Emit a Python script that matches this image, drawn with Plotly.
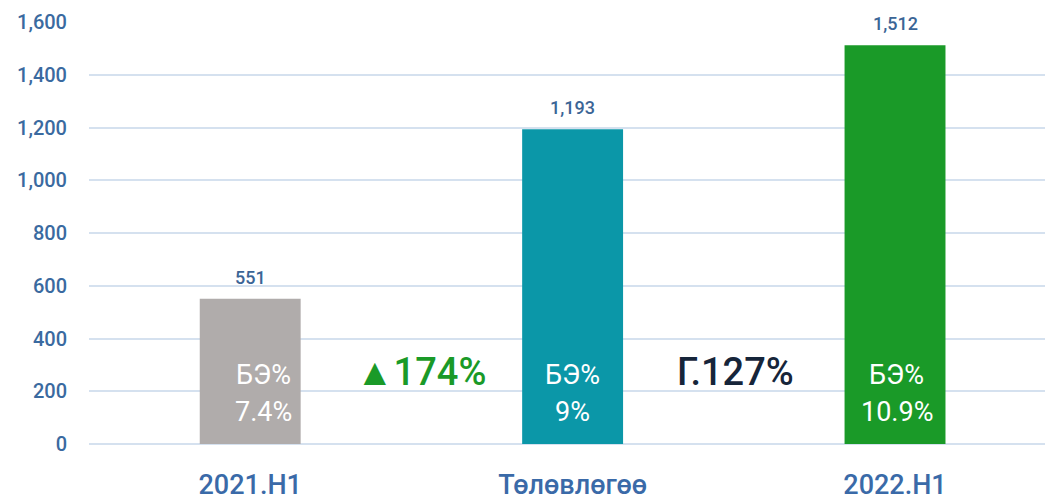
import plotly.graph_objects as go

categories = ["2021.H1", "Төлөвлөгөө", "2022.H1"]
values = [551, 1193, 1512]
value_labels = ["551", "1,193", "1,512"]
ratio_labels = ["7.4%", "9%", "10.9%"]
ratio_title = "БЭ%"
bar_colors = ["#b0acab", "#0b97a8", "#1a9a28"]
change_labels = ["▲174%", "Г.127%"]
change_colors = ["#1a9a28", "#16253a"]
y_ticks = [0, 200, 400, 600, 800, 1000, 1200, 1400, 1600]

FONT = "Roboto"
xs = list(range(len(categories)))

fig = go.Figure()
fig.add_trace(go.Bar(
    x=xs, y=values, width=0.313,
    marker=dict(color=bar_colors, line=dict(width=0)),
    hoverinfo="skip",
))

ann = []
for i, (v, lab) in enumerate(zip(values, value_labels)):
    ann.append(dict(x=i, y=v, text=lab, showarrow=False, yanchor="bottom", yshift=9,
                    font=dict(family=FONT, size=18, color="#3b6596", weight=500)))
# ratio texts inside bars (offset from bar centre)
ratio_dx = [0.04, 0.0, 0.005]
for i, r in enumerate(ratio_labels):
    ann.append(dict(x=i + ratio_dx[i], y=262, text=ratio_title, showarrow=False, yanchor="middle",
                    font=dict(family=FONT, size=27, color="white")))
    ann.append(dict(x=i + ratio_dx[i], y=121, text=r, showarrow=False, yanchor="middle",
                    font=dict(family=FONT, size=27, color="white")))
# change annotations between bars
change_x = [0.53, 1.504]
for cx, t, c in zip(change_x, change_labels, change_colors):
    ann.append(dict(x=cx, y=273, text=t, showarrow=False, yanchor="middle",
                    font=dict(family=FONT, size=38, color=c, weight=500)))

fig.update_layout(
    width=1045, height=492,
    margin=dict(l=81, r=0, t=14, b=56),
    paper_bgcolor="white", plot_bgcolor="white",
    showlegend=False,
    annotations=ann,
    xaxis=dict(
        range=[-0.5, 2.49], tickvals=xs, ticktext=categories,
        showgrid=False, zeroline=False, showline=False, ticks="",
        tickfont=dict(family=FONT, size=27, color="#3a6aa8", weight=500),
        ticklabelstandoff=22, automargin=False,
    ),
    yaxis=dict(
        range=[0, 1600], tickvals=y_ticks, tickformat=",",
        showgrid=True, gridcolor="#d5e1ef", gridwidth=2,
        zeroline=True, zerolinecolor="#d5e1ef", zerolinewidth=2,
        showline=False, ticks="",
        tickfont=dict(family=FONT, size=20, color="#3a6aa0", weight=500),
        ticklabelstandoff=21, automargin=False,
    ),
)
fig.update_traces(cliponaxis=False)
fig.write_html("out.html")
